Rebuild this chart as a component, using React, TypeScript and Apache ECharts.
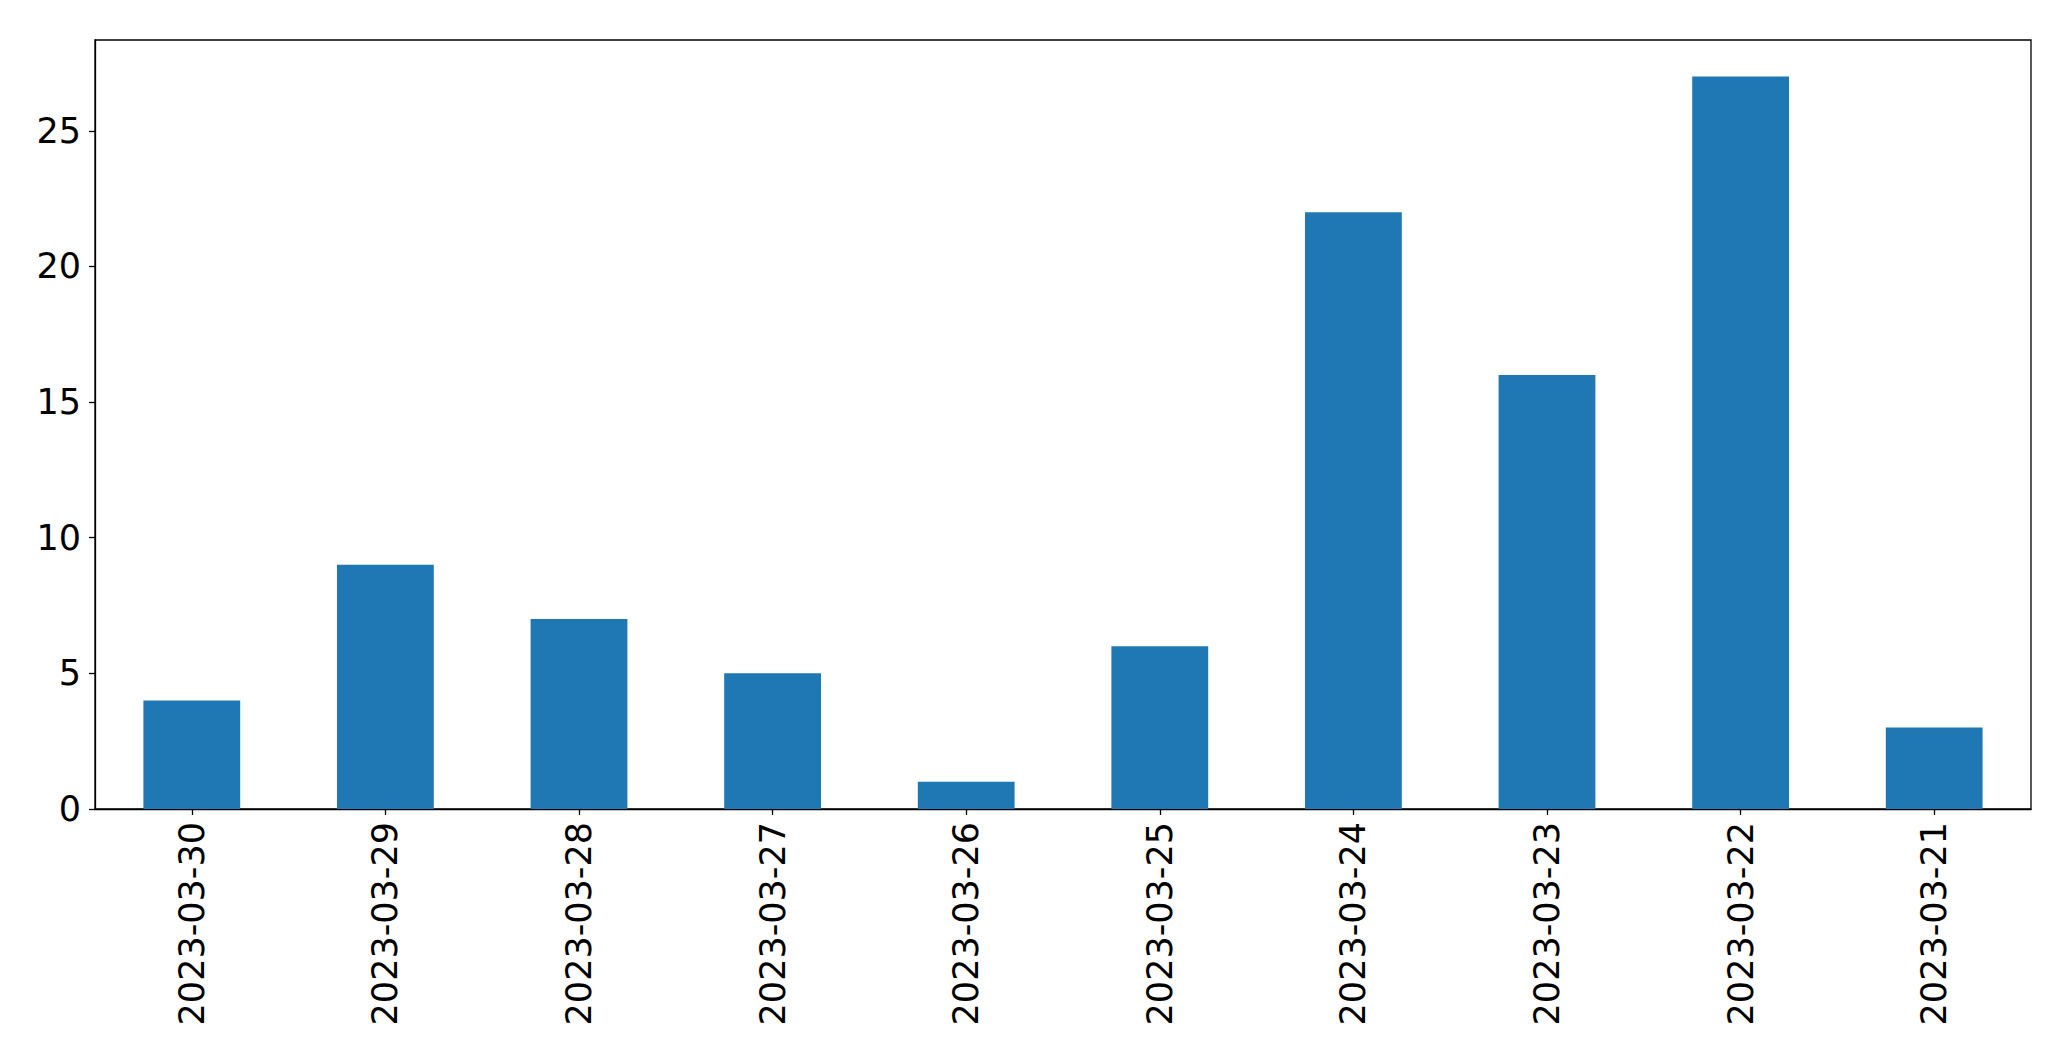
import React, { useEffect, useRef } from "react";
import * as echarts from "echarts";

const categories = [
  "2023-03-30",
  "2023-03-29",
  "2023-03-28",
  "2023-03-27",
  "2023-03-26",
  "2023-03-25",
  "2023-03-24",
  "2023-03-23",
  "2023-03-22",
  "2023-03-21",
];
const values = [4, 9, 7, 5, 1, 6, 22, 16, 27, 3];
const yMax = 28.35;

export default function App() {
  const ref = useRef<HTMLDivElement>(null);
  useEffect(() => {
    document.body.style.margin = "0";
    const chart = echarts.init(ref.current!, null, { renderer: "svg" });
    chart.setOption({
      animation: false,
      backgroundColor: "#ffffff",
      textStyle: { fontFamily: "DejaVu Sans" },
      grid: {
        left: 95,
        top: 40,
        width: 1936,
        height: 769,
        show: true,
        borderColor: "#000000",
        borderWidth: 1.3,
        containLabel: false,
      },
      xAxis: {
        type: "category",
        data: categories,
        axisLine: { show: true, lineStyle: { color: "#000", width: 1.3 } },
        axisTick: { show: true, alignWithLabel: true, length: 6, lineStyle: { color: "#000", width: 1.3 } },
        axisLabel: {
          rotate: 90,
          fontSize: 35,
          color: "#000",
          margin: 13,
          fontFamily: "DejaVu Sans",
        },
        splitLine: { show: false },
      },
      yAxis: {
        type: "value",
        min: 0,
        max: yMax,
        interval: 5,
        axisLine: { show: true, lineStyle: { color: "#000", width: 1.3 } },
        axisTick: { show: true, length: 6, lineStyle: { color: "#000", width: 1.3 } },
        axisLabel: {
          fontSize: 35,
          color: "#000",
          margin: 14,
          fontFamily: "DejaVu Sans",
          showMaxLabel: false,
        },
        splitLine: { show: false },
      },
      series: [
        {
          type: "bar",
          data: values,
          barWidth: "50%",
          itemStyle: { color: "#1f77b4" },
        },
      ],
    });
    return () => chart.dispose();
  }, []);
  return (
    <div
      ref={ref}
      style={{ position: "fixed", left: 0, top: 0, width: 2071, height: 1061 }}
    />
  );
}
